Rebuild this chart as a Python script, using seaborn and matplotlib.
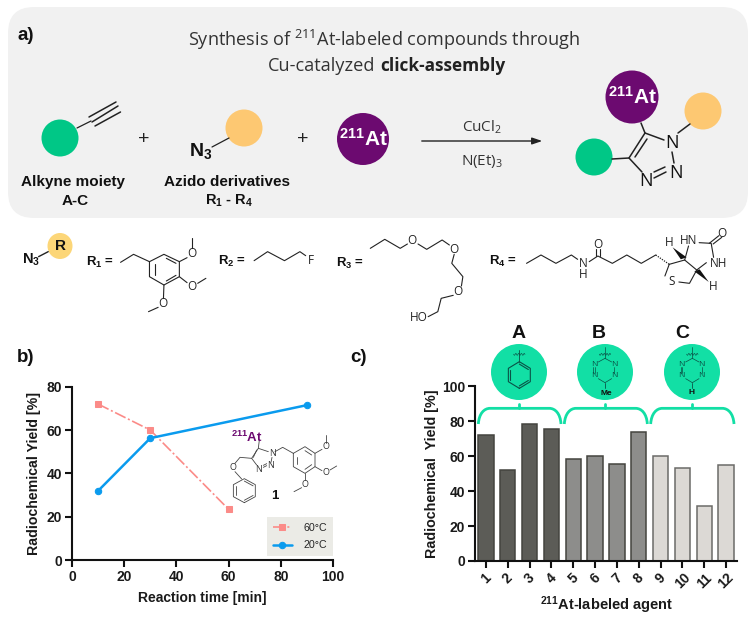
import numpy as np
import pandas as pd
import matplotlib
matplotlib.use("Agg")
import matplotlib.pyplot as plt
from matplotlib.patches import FancyBboxPatch, Ellipse, PathPatch, Polygon
from matplotlib.path import Path
import seaborn as sns

# ---------- data ----------
time_60 = [10, 30, 60]
yield_60 = [72, 60, 23.5]
time_20 = [10, 30, 90]
yield_20 = [32, 56.3, 71.5]
agents = ["1", "2", "3", "4", "5", "6", "7", "8", "9", "10", "11", "12"]
agent_yield = [72, 52, 78.5, 75.5, 58.5, 60, 55.5, 74, 60, 53.5, 31.5, 55]
agent_group = ["A"] * 4 + ["B"] * 4 + ["C"] * 4

W, H = 756, 619
sns.set_theme(style="ticks")
plt.rcParams["font.family"] = ["Liberation Sans", "DejaVu Sans"]
plt.rcParams["mathtext.fontset"] = "custom"
plt.rcParams["mathtext.rm"] = "Open Sans"
plt.rcParams["mathtext.bf"] = "Liberation Sans:bold"

GREEN, ORANGE, PURPLE = "#00c786", "#fdc872", "#6c0a70"
MINT = "#12dfa5"
fig = plt.figure(figsize=(W / 100, H / 100), dpi=100, facecolor="white")


def px_axes(x0, y_top, x1, y_bot):
    return fig.add_axes([x0 / W, 1 - y_bot / H, (x1 - x0) / W, (y_bot - y_top) / H])


def style_axes(ax):
    sns.despine(ax=ax)
    ax.set_facecolor("none")
    for s in ("left", "bottom"):
        ax.spines[s].set_linewidth(1.5)
        ax.spines[s].set_color("#111111")
    ax.tick_params(width=1.5, length=5, color="#111111", pad=2)
    for t in ax.get_xticklabels() + ax.get_yticklabels():
        t.set_fontweight("bold")
        t.set_fontsize(10)
        t.set_color("#1a1a1a")


# ---------- panel b ----------
axb = px_axes(72, 386.7, 333, 560.3)
sns.lineplot(x=time_60, y=yield_60, ax=axb, color="#fb8b88", lw=1.2, marker="s", ms=4.6,
             mec="#fb8b88", linestyle=(0, (7, 1.6, 1.2, 1.6)), label="60°C", sort=False, errorbar=None)
sns.lineplot(x=time_20, y=yield_20, ax=axb, color="#0a9bee", lw=1.8, marker="o", ms=4.6,
             mec="#0a9bee", label="20°C", sort=False, errorbar=None)
axb.set_xlim(0, 100)
axb.set_ylim(0, 80)
axb.set_xticks([0, 20, 40, 60, 80, 100])
axb.set_yticks([0, 20, 40, 60, 80])
style_axes(axb)
axb.set_xlabel("Reaction time [min]", fontweight="bold", fontsize=10, color="#1a1a1a")
axb.set_ylabel("Radiochemical Yield [%]", fontweight="bold", fontsize=10.2, color="#1a1a1a")
axb.xaxis.set_label_coords(0.5, -0.177)
axb.yaxis.set_label_coords(-0.118, 0.5)
leg = axb.legend(loc="lower right", bbox_to_anchor=(1.0, 0.024), borderaxespad=0, frameon=True, fontsize=7.7,
                 facecolor="#ebebe6", edgecolor="none", framealpha=1, fancybox=False, borderpad=0.55,
                 handlelength=1.75, labelspacing=0.7, handletextpad=1.1)

# ---------- panel c ----------
axc = px_axes(475, 386.3, 737, 561)
pal = {"A": "#5c5c57", "B": "#8d8d8b", "C": "#dcd9d5"}
df = pd.DataFrame({"agent": agents, "value": agent_yield, "group": agent_group})
sns.barplot(data=df, x="agent", y="value", hue="group", palette=pal, dodge=False, width=0.7,
            legend=False, saturation=1, ax=axc, order=agents)
for p in axc.patches:
    p.set_edgecolor("#44443f" if p.get_x() < 7.5 else "#6b6b68")
    p.set_linewidth(1.1)
axc.set_xlim(-0.5, 11.5)
axc.set_ylim(0, 100)
axc.set_yticks([0, 20, 40, 60, 80, 100])
style_axes(axc)
axc.tick_params(axis="x", labelrotation=45)
for t in axc.get_xticklabels():
    t.set_ha("center")
axc.set_xlabel("")
axc.set_ylabel("Radiochemical  Yield [%]", fontweight="bold", fontsize=10.3, color="#1a1a1a")
axc.yaxis.set_label_coords(-0.137, 0.5)

# ---------- overlay in pixel space ----------
ov = fig.add_axes([0, 0, 1, 1], zorder=10)
ov.set_xlim(0, W)
ov.set_ylim(H, 0)
ov.axis("off")
ov.patch.set_alpha(0)


def T(x, y, s, size=10, bold=False, color="#111111", ha="center", family=None, **k):
    return ov.text(x, y, s, fontsize=size, fontweight="bold" if bold else "normal", color=color,
                   ha=ha, va="center", family=family or ["Liberation Sans", "DejaVu Sans"], **k)


def L(pts, lw=0.9, color="#222222", **k):
    pts = np.array(pts, dtype=float)
    ov.plot(pts[:, 0], pts[:, 1], color=color, lw=lw, solid_capstyle="round", **k)


def C(x, y, rx, ry, color):
    ov.add_patch(Ellipse((x, y), 2 * rx, 2 * ry, fc=color, ec="none"))


# grey card of panel a
ov.add_patch(FancyBboxPatch((8, 7), 740, 211, boxstyle="round,pad=0,rounding_size=26", fc="#f1f1f1", ec="none"))

T(17, 35, "a)", 13.5, True, ha="left")
T(17, 358, "b)", 13.5, True, ha="left")
T(350, 358, "c)", 13.5, True, ha="left")

OS = ["Open Sans", "DejaVu Sans"]
T(384.5, 40, r"Synthesis of $^{211}$At-labeled compounds through", 13.1, family=OS, color="#333333")
T(268, 66, "Cu-catalyzed", 13.1, ha="left", family=OS, color="#333333")
T(380, 66, "click-assembly", 12.4, True, ha="left", family=OS, color="#222222")

# reagents
C(60, 138, 18.5, 18.5, GREEN)
L([(77, 128), (91, 121)])
L([(89, 117), (116, 102)], 1.1)
L([(92, 122), (118, 106)], 1.1)
L([(95, 126), (120.5, 112)], 1.1)
T(73, 182, "Alkyne moiety", 11, True)
T(75, 201, "A-C", 11, True)
T(144, 139, "+", 14, color="#222222")
C(244, 128, 18.5, 18.5, ORANGE)
L([(212, 147), (229, 138)])
T(201, 151, r"$\mathbf{N_3}$", 14)
T(227, 182, "Azido derivatives", 11, True)
T(229, 201, r"$\mathbf{R_1}$ - $\mathbf{R_4}$", 10.5, True)
T(303, 139, "+", 14, color="#222222")
C(363, 139, 26, 26, PURPLE)
T(363, 139, r"$\mathbf{^{211}At}$", 15, color="white")
ov.annotate("", xy=(545, 141), xytext=(419, 141),
            arrowprops=dict(arrowstyle="-|>,head_length=0.5,head_width=0.17", color="#222222", lw=1))
T(482, 127, r"CuCl$_2$", 11, family=OS, color="#333333")
T(482, 161, r"N(Et)$_3$", 11, family=OS, color="#333333")

# product
C(632, 97, 26.5, 26.5, PURPLE)
T(632, 97, r"$\mathbf{^{211}At}$", 15, color="white")
C(703, 111, 18.5, 18.5, ORANGE)
C(594, 157, 18.5, 18.5, GREEN)
L([(641, 123), (645, 133), (664, 140)], 1.1)
L([(629, 158), (645, 133)], 1.1)
L([(635, 157), (647, 139)], 1.1)
L([(612, 159), (629, 158), (642, 172)], 1.1)
L([(672, 152), (674, 163)], 1.1)
L([(666, 172), (654, 178)], 1.1)
L([(665, 167), (654, 172)], 1.1)
L([(678, 133), (690, 124)], 1.1)
T(672, 143, "N", 13, family=OS)
T(676, 173, "N", 13, family=OS)
T(646, 181, "N", 13, family=OS)


# R-group row uses the stretched coordinates of a 2.074 x 3 crop
def Q(*pts):
    return [(x / 2.074, 220 + y / 3) for x, y in pts]


def LQ(*pts, lw=0.8):
    L(Q(*pts), lw=lw)


def TQ(x, y, s, size=8.5, **k):
    (px, py), = Q((x, y))
    T(px, py, s, size, family=k.pop("family", OS), color=k.pop("color", "#222222"), **k)


C(60, 246, 12.5, 13, "#fcd678")
LQ((80, 110), (100, 95), lw=1)
T(60, 246, "R", 11, True)
T(31, 260, r"$\mathbf{N_3}$", 10.5)
T(100, 262, r"$\mathbf{R_1}$ =", 9.5, True)
T(232, 261, r"$\mathbf{R_2}$ =", 9.5, True)
T(350, 263, r"$\mathbf{R_3}$ =", 9.5, True)
T(503, 261, r"$\mathbf{R_4}$ =", 9.5, True)
# R1
LQ((250, 127), (277, 103), (310, 125), (340, 103), (372, 125), (372, 170), (340, 195), (310, 170), (310, 125))
LQ((322, 132), (322, 165))
LQ((345, 115), (365, 130))
LQ((345, 183), (365, 166))
LQ((372, 125), (388, 113)); LQ((398, 85), (398, 55))
LQ((372, 170), (388, 188)); LQ((410, 190), (427, 175))
LQ((340, 195), (339, 235)); LQ((328, 262), (308, 275))
TQ(398, 100, "O"); TQ(398, 200, "O"); TQ(338, 250, "O")
# R2
LQ((527, 122), (555, 95), (590, 122), (622, 95), (634, 107))
TQ(645, 122, "F")
# R3
LQ((768, 85), (798, 58), (830, 85), (845, 72)); LQ((867, 72), (885, 88), (917, 60), (932, 75))
LQ((942, 103), (937, 130), (960, 170), (957, 198)); LQ((940, 226), (915, 235), (908, 275), (888, 290))
TQ(855, 62, "O"); TQ(942, 88, "O"); TQ(950, 215, "O"); TQ(868, 292, "HO")
# R4
LQ((1092, 130), (1122, 105), (1153, 130), (1185, 105), (1198, 118))
LQ((1222, 125), (1240, 108), (1270, 130), (1300, 105), (1330, 130), (1360, 105))
LQ((1236, 108), (1236, 88)); LQ((1244, 108), (1244, 88))
TQ(1210, 130, "N"); TQ(1210, 165, "H"); TQ(1240, 75, "O")
LQ((1388, 133), (1420, 120), (1445, 150), (1430, 190), (1408, 186))
LQ((1388, 133), (1379, 168))
ov.plot(*zip(*Q((1360, 105), (1388, 133))), color="#222222", lw=0.9, ls=(0, (1, 1)))
LQ((1420, 120), (1428, 78)); LQ((1450, 68), (1475, 70), (1480, 112)); LQ((1465, 128), (1445, 150))
LQ((1471, 70), (1491, 47)); LQ((1479, 72), (1497, 52))
TQ(1428, 62, "HN"); TQ(1490, 130, "NH"); TQ(1498, 40, "O"); TQ(1392, 184, "S")
TQ(1387, 68, "H"); TQ(1480, 200, "H")
ov.add_patch(Polygon(Q((1412, 118), (1424, 112), (1395, 82)), fc="#111111", ec="none"))
ov.add_patch(Polygon(Q((1440, 154), (1451, 148), (1470, 186)), fc="#111111", ec="none"))


# small molecule of panel b (crop coordinates, 3x)
def Z(*pts, ox=0, oy=340):
    return [(ox + x / 3, oy + y / 3) for x, y in pts]


def LZ(*pts, lw=0.6, **k):
    L(Z(*pts), lw=lw, color="#444444", **k)


def TZ(x, y, s, size=6.5, **k):
    (px, py), = Z((x, y))
    T(px, py, s, size, family=k.pop("family", OS), color=k.pop("color", "#333333"), **k)


T(246.5, 437, r"$\mathbf{^{211}At}$", 9.5, color=PURPLE)
LZ((778, 300), (775, 325), (805, 335)); LZ((775, 325), (755, 355), (770, 375)); LZ((770, 330), (760, 352))
LZ((816, 352), (813, 367)); LZ((790, 382), (800, 377)); LZ((790, 376), (800, 371))
LZ((755, 355), (720, 352), (705, 370)); LZ((705, 395), (725, 417))
hexa = [(733 + 38 * np.sin(a), 452 + 36 * np.cos(a)) for a in np.deg2rad(np.arange(0, 361, 60))]
LZ(*hexa)
for i in (0, 2, 4):
    a, b = np.array(hexa[i]), np.array(hexa[i + 1])
    c = np.array((733, 452))
    LZ(tuple(a + (c - a) * 0.2), tuple(b + (c - b) * 0.2))
LZ((825, 335), (848, 322), (880, 340), (915, 320), (945, 340), (945, 380), (915, 400), (880, 380), (880, 340))
LZ((890, 350), (890, 372)); LZ((915, 332), (935, 345)); LZ((915, 388), (935, 374))
LZ((945, 340), (966, 328)); LZ((978, 308), (978, 285))
LZ((945, 380), (966, 392)); LZ((990, 390), (1010, 378))
LZ((915, 400), (915, 420)); LZ((905, 443), (882, 455))
TZ(817, 342, "N"); TZ(812, 378, "N"); TZ(777, 387, "N"); TZ(700, 382, "O")
TZ(978, 320, "O"); TZ(978, 397, "O"); TZ(915, 433, "O")
TZ(823, 468, "1", 9.5, family=["Liberation Sans"], bold=True, color="#111111")

# panel c decorations
for x, name in zip((519, 599, 682), "ABC"):
    T(x, 333, name, 14, True)
for x in (519, 605, 692):
    C(x, 372, 28, 28, MINT)


def ZC(*pts):
    return Z(*pts, ox=370, oy=320)


INK = "#0a5246"


def wavy(x):
    xs = np.linspace(x - 17, x + 17, 30)
    ys = 103 + 3 * np.sin((xs - x) * 0.75)
    L(ZC(*zip(xs, ys)), 0.45, INK)


# A: phenyl
L(ZC((448, 90), (448, 125)), 0.6, INK)
wavy(448)
hexa = [(448 + 38 * np.sin(a), 165 + 40 * np.cos(a)) for a in np.deg2rad(np.arange(0, 361, 60))]
L(ZC(*hexa), 0.8, INK)
for i in (0, 2, 4):
    a, b = np.array(hexa[i]), np.array(hexa[i + 1])
    c = np.array((448, 165))
    L(ZC(tuple(a + (c - a) * 0.18), tuple(b + (c - b) * 0.18)), 0.8, INK)
# B, C: tetrazines
for cx, sub in ((705, "Me"), (967, "H")):
    L(ZC((cx, 82), (cx, 115)), 0.5, INK)
    wavy(cx)
    L(ZC((cx, 115), (cx + 20, 126)), 0.5, INK)
    L(ZC((cx, 115), (cx - 20, 126)), 0.5, INK)
    L(ZC((cx, 188), (cx + 20, 176)), 0.5, INK)
    L(ZC((cx, 188), (cx - 20, 176)), 0.5, INK)
    L(ZC((cx + 28, 142), (cx + 28, 158)), 0.5, INK)
    L(ZC((cx - 30, 142), (cx - 30, 158)), 0.5, INK)
    L(ZC((cx - 35, 142), (cx - 35, 158)), 0.5, INK)
    L(ZC((cx, 188), (cx, 205)), 0.6, INK)
    for dx, dy in ((-33, -17), (28, -17), (-33, 17), (28, 17)):
        (px, py), = ZC((cx + dx, 150 + dy))
        T(px, py, "N", 6, family=OS, color=INK)
    (px, py), = ZC((cx + 3 if sub == "Me" else cx - 2, 221 if sub == "Me" else 218))
    T(px, py, sub, 6, True)

# brackets
for x0, tick, x1 in ((325, 448, 573), (583, 705, 832), (842, 967, 1092)):
    verts = ZC((x0, 312), (x0 + 2, 280), (x0 + 18, 265), (x0 + 35, 265), (x1 - 35, 265),
               (x1 - 18, 265), (x1 - 2, 280), (x1, 312))
    codes = [Path.MOVETO, Path.CURVE4, Path.CURVE4, Path.CURVE4, Path.LINETO, Path.CURVE4, Path.CURVE4, Path.CURVE4]
    ov.add_patch(PathPatch(Path(verts, codes), fc="none", ec=MINT, lw=2, capstyle="butt"))
    L(ZC((tick, 252), (tick, 265)), 2, MINT)

T(607, 605, r"$\mathbf{^{211}At}$" + "-labeled agent", 10.5, True, color="#1a1a1a")

fig.savefig("out.png", dpi=100, facecolor="white")
